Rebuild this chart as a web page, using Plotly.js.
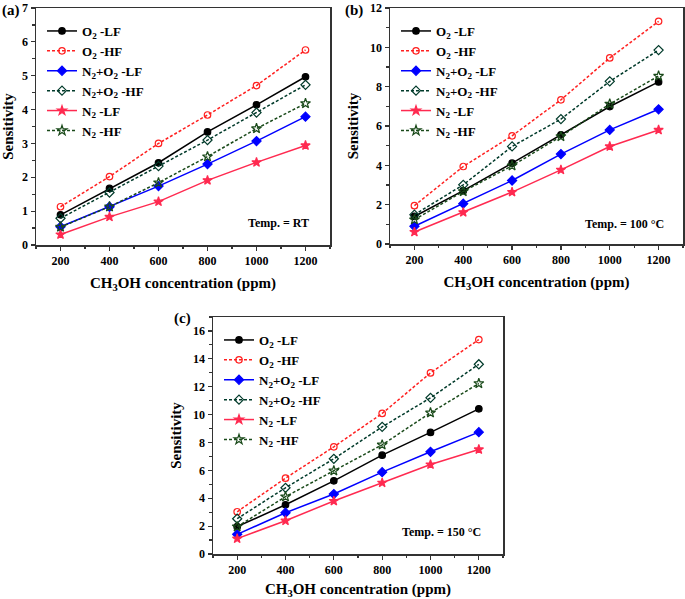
<!DOCTYPE html>
<html>
<head>
<meta charset="utf-8">
<script src="https://cdn.plot.ly/plotly-3.0.1.min.js"></script>
<style>
  body { margin: 0; background: #fff; }
  #chart { width: 685px; height: 599px; }
</style>
</head>
<body>
<div id="chart"></div>
<script>
// CH3OH concentration (ppm)
let conc = [200, 400, 600, 800, 1000, 1200];

// (a) Temp = RT
let O2_LF_RT   = [0.89, 1.67, 2.43, 3.34, 4.14, 4.97];
let O2_HF_RT   = [1.13, 2.02, 3.00, 3.84, 4.71, 5.76];
let N2O2_LF_RT = [0.54, 1.13, 1.74, 2.39, 3.07, 3.79];
let N2O2_HF_RT = [0.79, 1.55, 2.33, 3.10, 3.91, 4.73];
let N2_LF_RT   = [0.31, 0.83, 1.28, 1.91, 2.44, 2.94];
let N2_HF_RT   = [0.53, 1.13, 1.84, 2.61, 3.44, 4.18];

// (b) Temp = 100 C
let O2_LF_100   = [1.40, 2.71, 4.11, 5.55, 6.99, 8.24];
let O2_HF_100   = [1.95, 3.94, 5.50, 7.33, 9.46, 11.32];
let N2O2_LF_100 = [0.90, 2.05, 3.23, 4.57, 5.80, 6.85];
let N2O2_HF_100 = [1.49, 3.01, 4.96, 6.35, 8.27, 9.86];
let N2_LF_100   = [0.61, 1.61, 2.64, 3.77, 4.96, 5.80];
let N2_HF_100   = [1.24, 2.67, 3.98, 5.47, 7.12, 8.54];

// (c) Temp = 150 C
let O2_LF_150   = [1.96, 3.53, 5.25, 7.09, 8.72, 10.41];
let O2_HF_150   = [3.03, 5.44, 7.69, 10.08, 12.99, 15.38];
let N2O2_LF_150 = [1.41, 2.96, 4.30, 5.87, 7.33, 8.74];
let N2O2_HF_150 = [2.53, 4.75, 6.83, 9.12, 11.20, 13.61];
let N2_LF_150   = [1.10, 2.39, 3.80, 5.11, 6.42, 7.50];
let N2_HF_150   = [1.96, 4.11, 5.97, 7.83, 10.13, 12.23];

let seriesNames = ['O<sub>2</sub> -LF', 'O<sub>2</sub> -HF', 'N<sub>2</sub>+O<sub>2</sub> -LF',
                   'N<sub>2</sub>+O<sub>2</sub> -HF', 'N<sub>2</sub> -LF', 'N<sub>2</sub> -HF'];
let tempLabels = ['Temp. = RT', 'Temp. = 100 °C', 'Temp. = 150 °C'];
let panelLabels = ['(a)', '(b)', '(c)'];

let colors  = ['#000000', '#ff2020', '#0000ff', '#003a2a', '#ff2a50', '#1a4a1a'];
let symbols = ['circle', 'circle-open', 'diamond', 'diamond-open', 'star', 'star-open'];
let sizes   = [6.5, 6.5, 7, 7, 7, 7.5];
let dashes  = ['solid', '3px,2px', 'solid', '3px,2px', 'solid', '3px,2px'];

let panels = [
  [O2_LF_RT, O2_HF_RT, N2O2_LF_RT, N2O2_HF_RT, N2_LF_RT, N2_HF_RT],
  [O2_LF_100, O2_HF_100, N2O2_LF_100, N2O2_HF_100, N2_LF_100, N2_HF_100],
  [O2_LF_150, O2_HF_150, N2O2_LF_150, N2O2_HF_150, N2_LF_150, N2_HF_150]
];

let FONT = 'Liberation Serif, Times New Roman, serif';
let W = 685, H = 599;

let traces = [];
for (let p = 0; p < 3; p++) {
  let sfx = p == 0 ? '' : String(p + 1);
  for (let i = 0; i < 6; i++) {
    traces.push({
      x: conc,
      y: panels[p][i],
      xaxis: 'x' + sfx,
      yaxis: 'y' + sfx,
      legend: 'legend' + sfx,
      name: seriesNames[i],
      type: 'scatter',
      mode: 'lines+markers',
      line: {color: colors[i], width: 1.5, dash: dashes[i]},
      marker: {symbol: symbols[i], color: colors[i], size: sizes[i],
               line: {color: colors[i], width: 1.2}}
    });
  }
}

// pixel boxes of the three plots: [left, right, top, bottom]
let boxes = [[36, 330, 8, 245], [390, 683, 8, 244], [213, 503, 317, 554]];
let yRanges = [[0, 7], [0, 12], [0, 17]];
let yTicks = [1, 2, 2];
let TICKC = '#333';

function xAxis(p) {
  let b = boxes[p];
  return {
    domain: [b[0] / W, b[1] / W],
    anchor: p == 0 ? 'y' : 'y' + (p + 1),
    range: [100, 1300],
    tickmode: 'linear', tick0: 200, dtick: 200,
    ticks: 'outside', ticklen: 4, tickwidth: 1.2, tickcolor: TICKC,
    minor: {dtick: 100, ticks: 'outside', ticklen: 2.5, tickcolor: TICKC},
    showline: true, linecolor: TICKC, linewidth: 1.5, mirror: true,
    showgrid: false, zeroline: false,
    tickfont: {family: FONT, size: 12, color: '#000', weight: 'bold'},
    title: {text: 'CH<sub>3</sub>OH concentration (ppm)', standoff: 10,
            font: {family: FONT, size: 15, color: '#000', weight: 'bold'}}
  };
}
function yAxis(p) {
  let b = boxes[p];
  return {
    domain: [1 - b[3] / H, 1 - b[2] / H],
    anchor: p == 0 ? 'x' : 'x' + (p + 1),
    range: yRanges[p],
    tickmode: 'linear', tick0: 0, dtick: yTicks[p],
    ticks: 'outside', ticklen: 4, tickwidth: 1.2, tickcolor: TICKC,
    minor: {dtick: yTicks[p] / 2, ticks: 'outside', ticklen: 2.5, tickcolor: TICKC},
    showline: true, linecolor: TICKC, linewidth: 1.5, mirror: true,
    showgrid: false, zeroline: false,
    tickfont: {family: FONT, size: 12, color: '#000', weight: 'bold'},
    title: {text: 'Sensitivity', standoff: 8,
            font: {family: FONT, size: 15, color: '#000', weight: 'bold'}}
  };
}
// top and right axes with ticks pointing inward (no labels)
function topAxis(p) {
  let ax = xAxis(p);
  let base = p == 0 ? 'x' : 'x' + (p + 1);
  return {
    domain: ax.domain, anchor: ax.anchor, overlaying: base, side: 'top',
    range: ax.range, tickmode: 'linear', tick0: 200, dtick: 200,
    ticks: 'inside', ticklen: 4, tickwidth: 1.2, tickcolor: TICKC,
    minor: {dtick: 100, ticks: 'inside', ticklen: 2.5, tickcolor: TICKC},
    showline: false, showgrid: false, zeroline: false, showticklabels: false
  };
}
function rightAxis(p) {
  let ax = yAxis(p);
  let base = p == 0 ? 'y' : 'y' + (p + 1);
  return {
    domain: ax.domain, anchor: ax.anchor, overlaying: base, side: 'right',
    range: ax.range, tickmode: 'linear', tick0: 0, dtick: yTicks[p],
    ticks: 'inside', ticklen: 4, tickwidth: 1.2, tickcolor: TICKC,
    minor: {dtick: yTicks[p] / 2, ticks: 'inside', ticklen: 2.5, tickcolor: TICKC},
    showline: false, showgrid: false, zeroline: false, showticklabels: false
  };
}
function legendAt(p) {
  let b = boxes[p];
  return {
    x: (b[0] + 6) / W, y: 1 - (b[2] + 8) / H,
    xanchor: 'left', yanchor: 'top',
    bgcolor: 'rgba(0,0,0,0)', borderwidth: 0,
    tracegroupgap: 0,
    font: {family: FONT, size: 13, color: '#000', weight: 'bold'}
  };
}

// temperature label positions in data units
let tempPos = [[1090, 0.65], [1060, 1.0], [1045, 1.6]];
let labelPos = [[0, 10], [343, 10], [172, 318]];

let annotations = [];
for (let p = 0; p < 3; p++) {
  let sfx = p == 0 ? '' : String(p + 1);
  annotations.push({
    text: tempLabels[p], xref: 'x' + sfx, yref: 'y' + sfx,
    x: tempPos[p][0], y: tempPos[p][1], showarrow: false,
    font: {family: FONT, size: 12, color: '#000', weight: 'bold'}
  });
  annotations.push({
    text: panelLabels[p], xref: 'paper', yref: 'paper',
    x: labelPos[p][0] / W, y: 1 - labelPos[p][1] / H,
    xanchor: 'left', yanchor: 'middle', showarrow: false,
    font: {family: FONT, size: 15, color: '#000', weight: 'bold'}
  });
}

let layout = {
  width: W, height: H,
  margin: {l: 0, r: 0, t: 0, b: 0},
  paper_bgcolor: '#fff', plot_bgcolor: '#fff',
  showlegend: true,
  xaxis: xAxis(0), yaxis: yAxis(0),
  xaxis2: xAxis(1), yaxis2: yAxis(1),
  xaxis3: xAxis(2), yaxis3: yAxis(2),
  xaxis4: topAxis(0), yaxis4: rightAxis(0),
  xaxis5: topAxis(1), yaxis5: rightAxis(1),
  xaxis6: topAxis(2), yaxis6: rightAxis(2),
  legend: legendAt(0), legend2: legendAt(1), legend3: legendAt(2),
  annotations: annotations
};

Plotly.newPlot('chart', traces, layout, {displayModeBar: false, staticPlot: true});
</script>
</body>
</html>
